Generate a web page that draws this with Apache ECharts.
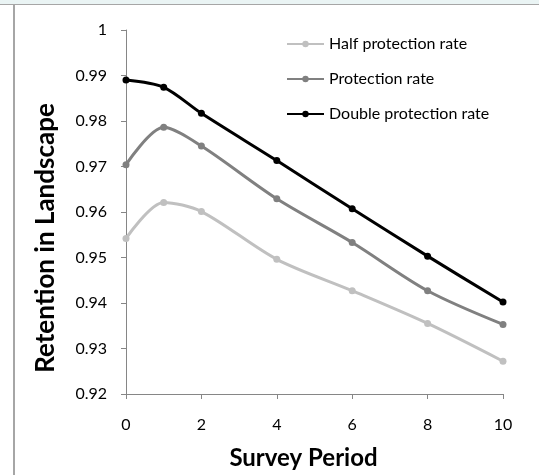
<!DOCTYPE html>
<html>
<head>
    <meta charset="utf-8"/>
    <title>Retention in Landscape</title>
    <script src="https://cdn.jsdelivr.net/npm/echarts@6/dist/echarts.min.js"></script>
    <style>
        html, body { margin: 0; padding: 0; background: #fff; }
    </style>
</head>
<body>
<div id="main" style="width: 539px;height:475px;"></div>
<script type="text/javascript">
    // survey periods (x values)
    var periods = [0, 1, 2, 4, 6, 8, 10];
    var seriesNames = ['Half protection rate', 'Protection rate', 'Double protection rate'];
    var halfRate = [0.9542, 0.9621, 0.9601, 0.9496, 0.9427, 0.9355, 0.9272];
    var protRate = [0.9704, 0.9786, 0.9745, 0.9629, 0.9533, 0.9427, 0.9353];
    var doubleRate = [0.9890, 0.9874, 0.9817, 0.9713, 0.9607, 0.9503, 0.9402];
    var xTicks = [0, 2, 4, 6, 8, 10];
    var yTicks = [0.92, 0.93, 0.94, 0.95, 0.96, 0.97, 0.98, 0.99, 1];

    var colors = ['#c0c0c0', '#808080', '#000000'];

    function pairs(vals) {
        return periods.map(function (p, i) { return [p, vals[i]]; });
    }

    var myChart = echarts.init(document.getElementById('main'));
    var font = 'Lato, "Open Sans", sans-serif';

    var series = [halfRate, protRate, doubleRate].map(function (vals, i) {
        return {
            name: seriesNames[i],
            type: 'line',
            smooth: 0.3,
            data: pairs(vals),
            symbol: 'circle',
            symbolSize: 7,
            lineStyle: { width: 3, color: colors[i] },
            itemStyle: { color: colors[i] },
            z: 2 + i
        };
    });

    var option = {
        animation: false,
        backgroundColor: '#fff',
        grid: { left: 126, right: 36, top: 30, bottom: 81 },
        legend: {
            orient: 'vertical',
            left: 286,
            top: 36,
            padding: 0,
            itemWidth: 37,
            itemHeight: 8,
            itemGap: 19,
            data: seriesNames,
            textStyle: { fontFamily: font, fontSize: 16, color: '#000' }
        },
        xAxis: {
            type: 'value',
            min: 0,
            max: 10,
            interval: 2,
            name: 'Survey Period',
            nameLocation: 'middle',
            nameGap: 52,
            nameTextStyle: {
                fontFamily: font, fontSize: 24, fontWeight: 'bold', color: '#000',
                padding: [0, 22, 0, 0]
            },
            axisLine: { lineStyle: { color: '#868686', width: 1 } },
            axisTick: { show: true, length: 5, lineStyle: { color: '#868686' } },
            axisLabel: {
                fontFamily: font, fontSize: 16, color: '#000', margin: 23,
                formatter: function (v) { return xTicks.indexOf(v) >= 0 ? String(v) : ''; }
            },
            splitLine: { show: false }
        },
        yAxis: {
            type: 'value',
            min: 0.92,
            max: 1,
            interval: 0.01,
            name: 'Retention in Landscape',
            nameLocation: 'middle',
            nameGap: 67,
            nameTextStyle: {
                fontFamily: font, fontSize: 26, fontWeight: 'bold', color: '#000',
                padding: [0, 52, 0, 0]
            },
            axisLine: { show: true, lineStyle: { color: '#868686', width: 1 } },
            axisTick: { show: true, length: 5, lineStyle: { color: '#868686' } },
            axisLabel: {
                fontFamily: font, fontSize: 16, color: '#000', margin: 19,
                formatter: function (v) {
                    var r = Math.round(v * 100) / 100;
                    var hit = yTicks.filter(function (t) { return Math.abs(t - r) < 1e-9; });
                    return hit.length ? String(hit[0]) : '';
                }
            },
            splitLine: { show: false }
        },
        graphic: [
            { type: 'rect', shape: { x: 0, y: 0, width: 539, height: 4 }, style: { fill: '#eaf4f4' }, silent: true },
            { type: 'rect', shape: { x: 0, y: 4, width: 539, height: 1 }, style: { fill: '#a6a6a6' }, silent: true },
            { type: 'rect', shape: { x: 13, y: 4, width: 2, height: 471 }, style: { fill: '#a6a6a6' }, silent: true }
        ],
        series: series
    };

    myChart.setOption(option);
</script>
</body>
</html>
